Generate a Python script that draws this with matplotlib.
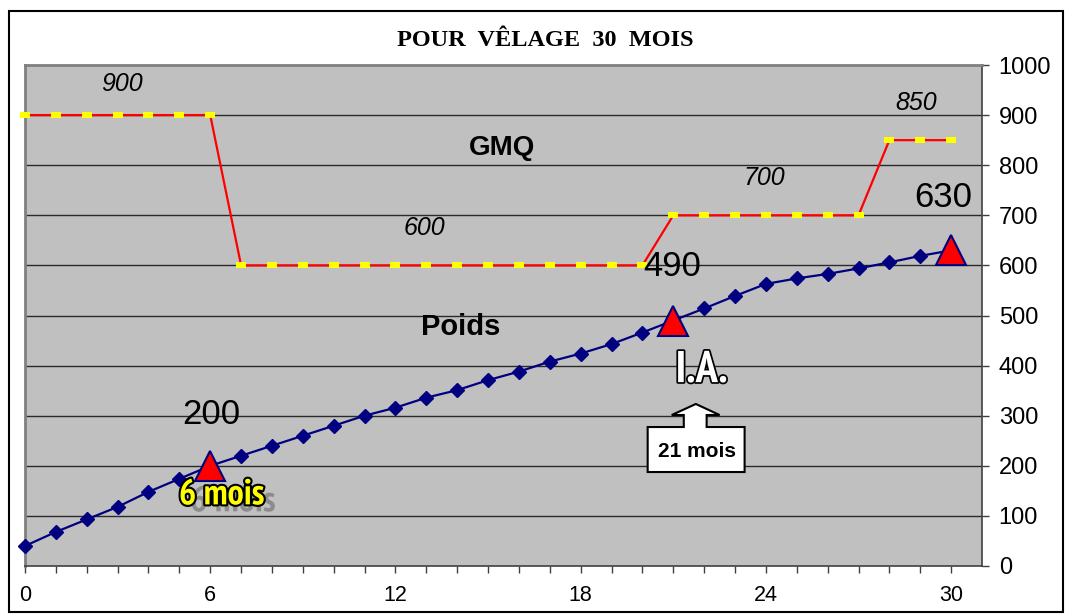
import matplotlib
matplotlib.use("Agg")
import matplotlib.pyplot as plt
import matplotlib.patheffects as pe
import matplotlib.font_manager as fm
from matplotlib.patches import Polygon, Rectangle

# ---- data ----
months = [0, 1, 2, 3, 4, 5, 6, 7, 8, 9, 10, 11, 12, 13, 14, 15, 16, 17, 18, 19, 20,
          21, 22, 23, 24, 25, 26, 27, 28, 29, 30]
poids = [40, 68, 93, 118, 148, 174, 200, 220, 240, 260, 280, 300, 316, 336, 351, 371,
         388, 408, 424, 443, 466, 490, 514, 539, 563, 574, 583, 594, 606, 619, 630]
gmq = [900, 900, 900, 900, 900, 900, 900, 600, 600, 600, 600, 600, 600, 600, 600, 600,
       600, 600, 600, 600, 600, 700, 700, 700, 700, 700, 700, 700, 850, 850, 850]
key_months = [6, 21, 30]
key_poids = [200, 490, 630]
x_ticks = [0, 6, 12, 18, 24, 30]
y_ticks = [0, 100, 200, 300, 400, 500, 600, 700, 800, 900, 1000]


def find_narrow_bold():
    best = None
    for f in fm.fontManager.ttflist:
        name = f.name
        if "Serif" in name or "Mono" in name:
            continue
        w = f.weight if isinstance(f.weight, int) else (700 if f.weight == "bold" else 400)
        if w < 700 or f.style != "normal":
            continue
        if "Narrow" in name:
            return f.fname
        if "Condensed" in name or f.stretch in ("condensed", "semi-condensed", "extra-condensed"):
            best = best or f.fname
    return best


narrow_path = find_narrow_bold()


def narrow_props(size):
    if narrow_path:
        return fm.FontProperties(fname=narrow_path, size=size)
    return fm.FontProperties(family="Liberation Sans", weight="bold", size=size * 0.85)


W, H = 1068, 614
fig = plt.figure(figsize=(W / 100, H / 100), dpi=100)
fig.patch.set_facecolor("white")

ax = fig.add_axes([25 / W, 1 - 566 / H, (982 - 25) / W, (566 - 65) / H])
ax.set_facecolor("#C0C0C0")
ax.set_xlim(0, 31)
ax.set_ylim(0, 1000)

# gridlines
for v in y_ticks[1:-1]:
    ax.axhline(v, color="#2a2a2a", lw=1.0, zorder=1)

# spines
for s in ["left", "top"]:
    ax.spines[s].set_color("#808080")
    ax.spines[s].set_linewidth(2)
ax.spines["right"].set_color("#404040")
ax.spines["right"].set_linewidth(1.2)
ax.spines["bottom"].set_color("#404040")
ax.spines["bottom"].set_linewidth(1.2)

ax.yaxis.tick_right()
ax.set_yticks(y_ticks)
ax.set_yticklabels([str(v) for v in y_ticks], fontsize=17, family="Liberation Sans")
ax.set_xticks(x_ticks)
ax.set_xticklabels([str(v) for v in x_ticks], fontsize=15.5, family="Liberation Sans")
ax.set_xticks(months, minor=True)
ax.tick_params(axis="y", which="both", direction="out", length=5, width=1,
               color="#404040", pad=7, left=False, right=True)
ax.tick_params(axis="x", which="both", direction="out", length=5, width=1,
               color="#404040", pad=9)

# GMQ line
rect_marker = [(-1, -0.5), (1, -0.5), (1, 0.5), (-1, 0.5), (-1, -0.5)]
ax.plot(months, gmq, color="red", lw=1.6, marker=rect_marker, markersize=7.5,
        markerfacecolor="#FFFF00", markeredgecolor="#FFFF00", markeredgewidth=0,
        zorder=3, clip_on=False)

# Poids line
ax.plot(months, poids, color="#000080", lw=1.6, marker="D", markersize=7.5,
        markerfacecolor="#000080", markeredgecolor="#000080", zorder=4, clip_on=False)
ax.plot(key_months, key_poids, linestyle="none", marker="^", markersize=21,
        markerfacecolor="red", markeredgecolor="#000080", markeredgewidth=1.5,
        zorder=5, clip_on=False)

# value labels
sans = "Liberation Sans"
ax.text(6.05, 303, "200", fontsize=25, family=sans, ha="center", va="center", zorder=6)
ax.text(20.95, 597, "490", fontsize=25, family=sans, ha="center", va="center", zorder=6)
ax.text(29.74, 735, "630", fontsize=25, family=sans, ha="center", va="center", zorder=6)
ax.text(3.14, 962, "900", fontsize=18, style="italic", family=sans, ha="center", va="center")
ax.text(12.93, 675, "600", fontsize=18, style="italic", family=sans, ha="center", va="center")
ax.text(23.93, 774, "700", fontsize=18, style="italic", family=sans, ha="center", va="center")
ax.text(28.87, 924, "850", fontsize=18, style="italic", family=sans, ha="center", va="center")
ax.text(15.45, 834, "GMQ", fontsize=20, weight="bold", family=sans, ha="center", va="center")
ax.text(14.1, 477, "Poids", fontsize=21, weight="bold", family=sans, ha="center", va="center")

ax.text(6.37, 142, "6 mois", fontproperties=narrow_props(26), color="#FFFF00",
        ha="center", va="center", zorder=6,
        path_effects=[pe.withSimplePatchShadow(offset=(8, -5), shadow_rgbFace="#8c8c8c", alpha=1.0),
                      pe.Stroke(linewidth=3, foreground="black"), pe.Normal()])
ax.text(21.92, 389, "I.A.", fontproperties=narrow_props(32), color="white",
        ha="center", va="center", zorder=6,
        path_effects=[pe.Stroke(linewidth=2.5, foreground="black"), pe.Normal()])

# callout arrow box
arrow = Polygon([(20.17, 187.6), (20.17, 277.4), (21.34, 277.4), (21.34, 301.4),
                 (20.95, 301.4), (21.73, 323.4), (22.5, 301.4), (22.08, 301.4),
                 (22.08, 277.4), (23.31, 277.4), (23.31, 187.6)], closed=True,
                facecolor="white", edgecolor="black", lw=1.5, zorder=6)
ax.add_patch(arrow)
ax.text(21.76, 228, "21 mois", fontsize=15, weight="bold", family=sans,
        ha="center", va="center", zorder=7)

# title
fig.text(545 / W, 1 - 40 / H, "POUR  VÊLAGE  30  MOIS", fontsize=17.5, weight="bold",
         family="Liberation Serif", ha="center", va="center")

# outer border
fig.patches.append(Rectangle((9 / W, 1 - 612 / H), (1063 - 9) / W, (612 - 11) / H,
                             transform=fig.transFigure, fill=False, edgecolor="black",
                             lw=1.5))

fig.savefig("out.png", dpi=100)
